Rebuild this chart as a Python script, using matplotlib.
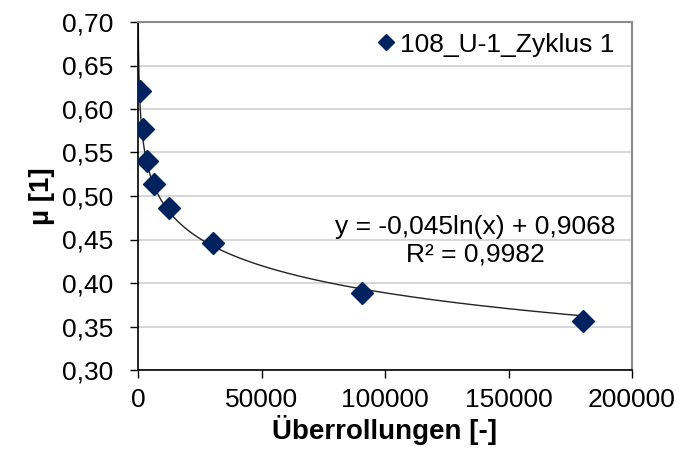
import numpy as np
import matplotlib
matplotlib.use("Agg")
import matplotlib.pyplot as plt

plt.rcParams['font.family'] = ['Liberation Sans', 'DejaVu Sans']

# Data
ueberrollungen = [1000, 2000, 3500, 6500, 12500, 30500, 90500, 180000]
mu = [0.621, 0.577, 0.540, 0.514, 0.486, 0.446, 0.388, 0.356]
series_name = "108_U-1_Zyklus 1"
fit_a, fit_b = -0.045, 0.9068
fit_label = "y = -0,045ln(x) + 0,9068\nR² = 0,9982"
yticks = [0.30, 0.35, 0.40, 0.45, 0.50, 0.55, 0.60, 0.65, 0.70]
xticks = [0, 50000, 100000, 150000, 200000]

fig = plt.figure(figsize=(6.79, 4.5), dpi=100)
ax = fig.add_axes([138/679, 80/450, 494/679, 348/450])

# trendline
xt = np.linspace(1, max(ueberrollungen), 4000)
ax.plot(xt, fit_a*np.log(xt) + fit_b, color='#222222', lw=1.0, zorder=2)

ax.plot(ueberrollungen, mu, linestyle='none', marker='D', markersize=11,
        color='#00235f', markeredgecolor='#00235f', label=series_name, zorder=3)

ax.set_xlim(0, 200000)
ax.set_ylim(0.30, 0.70)
ax.set_yticks(yticks)
ax.set_yticklabels([f"{v:.2f}".replace('.', ',') for v in yticks])
ax.set_xticks(xticks)
ax.set_xticklabels([str(v) for v in xticks])
ax.tick_params(axis='both', direction='out', length=6, width=1, labelsize=19, color='black')
ax.tick_params(axis='y', pad=12)
ax.tick_params(axis='x', pad=7)

ax.yaxis.grid(True, color='#cfcfcf', lw=1.2)
ax.set_axisbelow(True)

for s in ['top', 'right']:
    ax.spines[s].set_color('#8a8a8a')
    ax.spines[s].set_linewidth(1.5)
for s in ['left', 'bottom']:
    ax.spines[s].set_color('black')
    ax.spines[s].set_linewidth(1.2)

ax.set_xlabel("Überrollungen [-]", fontsize=20, fontweight='bold', labelpad=2)
ax.set_ylabel("µ [1]", fontsize=20, fontweight='bold', labelpad=5)

ax.legend(loc='upper right', bbox_to_anchor=(1 - 7/494, 1.0), frameon=False,
          fontsize=19, handlelength=0.5, handletextpad=0.3, borderaxespad=0.1,
          borderpad=0.3, markerscale=0.7)

ax.text(0.682, 0.371, fit_label, transform=ax.transAxes, ha='center', va='center',
        fontsize=19, linespacing=1.2)

fig.savefig("out.png", dpi=100)
